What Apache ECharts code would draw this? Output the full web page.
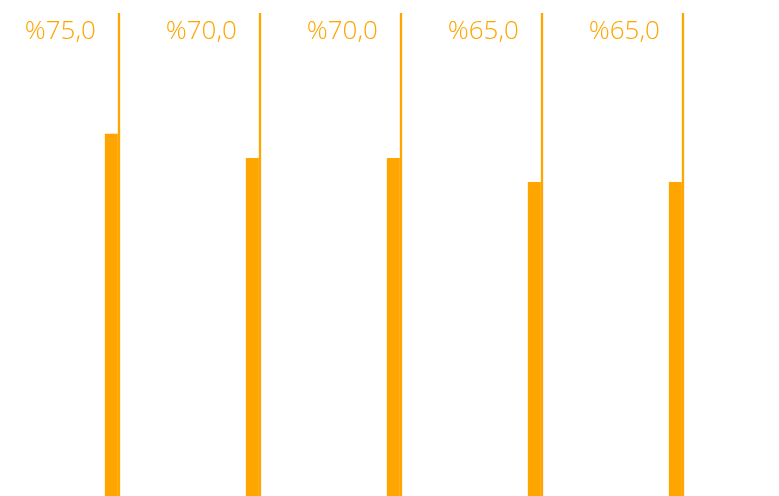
<!DOCTYPE html>
<html><head><meta charset="utf-8">
<script src="https://cdn.jsdelivr.net/npm/echarts@6/dist/echarts.min.js"></script>
<style>html,body{margin:0;padding:0;background:#fff}#c{width:779px;height:496px}</style>
</head><body><div id="c"></div>
<script>
var categories = ['A', 'B', 'C', 'D', 'E'];
var values = [75, 70, 70, 65, 65];
var fullValues = [100, 100, 100, 100, 100];
var color = '#FFA500';
var chart = echarts.init(document.getElementById('c'), null, {renderer: 'canvas'});
chart.setOption({
  animation: false,
  grid: {left: 42, right: 32, top: 13, bottom: 0},
  xAxis: {type: 'category', data: categories, show: false},
  yAxis: {type: 'value', min: 0, max: 100, show: false},
  series: [
    {type: 'bar', data: values, barWidth: 13, barGap: '0%', itemStyle: {color: color}},
    {type: 'bar', data: fullValues, barWidth: 2.3, itemStyle: {color: color},
      label: {show: true, position: [-22, 19], align: 'right', verticalAlign: 'middle',
        fontFamily: 'Open Sans', fontWeight: 300, fontSize: 26, color: color,
        formatter: function (p) { return '%' + values[p.dataIndex].toFixed(1).replace('.', ','); }}}
  ]
});
</script></body></html>
